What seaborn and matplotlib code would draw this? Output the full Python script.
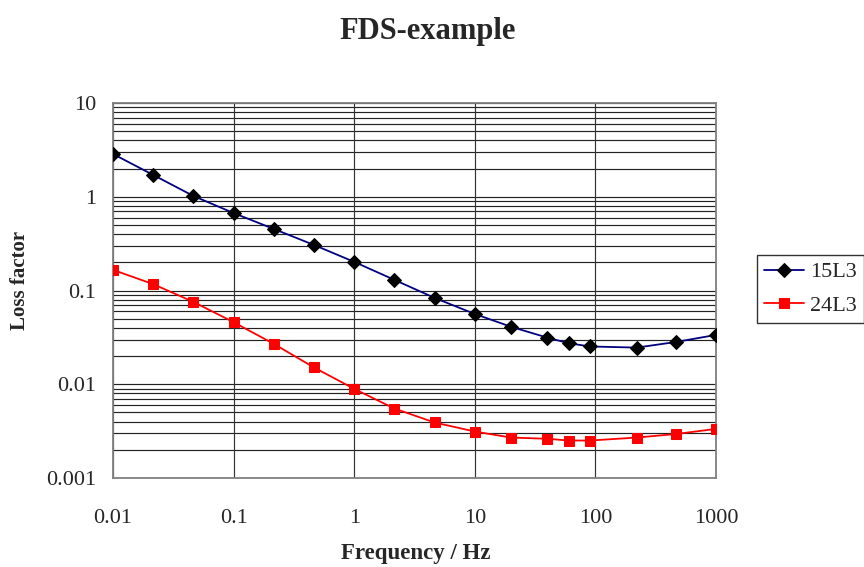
import matplotlib
matplotlib.use("Agg")
import matplotlib.pyplot as plt
import seaborn as sns
import pandas as pd
from matplotlib.ticker import FixedLocator, NullLocator

freq = [0.01, 0.0215, 0.0464, 0.1, 0.215, 0.464, 1, 2.15, 4.64, 10,
        20, 40, 60, 90, 220, 470, 1000]
loss_15L3 = [2.86, 1.71, 1.02, 0.67, 0.454, 0.306, 0.202, 0.130, 0.0834, 0.0562,
             0.041, 0.0314, 0.0274, 0.0253, 0.0246, 0.0283, 0.0336]
loss_24L3 = [0.166, 0.117, 0.0756, 0.0459, 0.0270, 0.0151, 0.00893, 0.00551, 0.00391, 0.00313,
             0.00270, 0.00262, 0.00251, 0.00251, 0.00270, 0.00295, 0.00334]
series_names = ["15L3", "24L3"]
x_ticks = [0.01, 0.1, 1, 10, 100, 1000]
x_tick_labels = ["0.01", "0.1", "1", "10", "100", "1000"]
y_ticks = [0.001, 0.01, 0.1, 1, 10]
y_tick_labels = ["0.001", "0.01", "0.1", "1", "10"]
title = "FDS-example"
x_label = "Frequency / Hz"
y_label = "Loss factor"

sns.set_style("white")
plt.rcParams["font.family"] = ["Liberation Serif", "DejaVu Serif"]

df1 = pd.DataFrame({"freq": freq, "loss": loss_15L3})
df2 = pd.DataFrame({"freq": freq, "loss": loss_24L3})

fig = plt.figure(figsize=(8.64, 5.67), dpi=100)
ax = fig.add_axes([113/864, 1-478/567, (716-113)/864, (478-103)/567])

ax.set_xscale("log")
ax.set_yscale("log")
ax.set_xlim(0.01, 1000)
ax.set_ylim(0.001, 10)

# grid: horizontal major+minor, vertical major only
minor_y = [m * 10.0**e for e in range(-3, 1) for m in range(2, 10)]
for yv in y_ticks + minor_y:
    ax.axhline(yv, color="#222222", lw=0.85, zorder=1)
for xv in x_ticks:
    ax.axvline(xv, color="#333333", lw=0.85, zorder=1)

sns.lineplot(data=df1, x="freq", y="loss", ax=ax, color="#000080", lw=1.3,
             marker="D", markersize=7, markerfacecolor="black",
             markeredgecolor="black", label=series_names[0], zorder=3,
             estimator=None, sort=False)
sns.lineplot(data=df2, x="freq", y="loss", ax=ax, color="#FF0000", lw=1.3,
             marker="s", markersize=7.5, markerfacecolor="#FF0000",
             markeredgecolor="#FF0000", label=series_names[1], zorder=3,
             estimator=None, sort=False)

ax.xaxis.set_major_locator(FixedLocator(x_ticks))
ax.xaxis.set_minor_locator(NullLocator())
ax.set_xticks(x_ticks)
ax.set_xticklabels(x_tick_labels, fontsize=16)
ax.yaxis.set_major_locator(FixedLocator(y_ticks))
ax.yaxis.set_minor_locator(NullLocator())
ax.set_yticks(y_ticks)
ax.set_yticklabels(y_tick_labels, fontsize=16)
ax.tick_params(axis="x", length=0, pad=22)
ax.tick_params(axis="y", length=0, pad=12)

for s in ax.spines.values():
    s.set_color("#808080")
    s.set_linewidth(1.3)
    s.set_visible(True)

ax.set_xlabel("")
ax.set_ylabel("")
fig.text(416/864, 1-553/567, x_label, ha="center", va="center",
         fontsize=16.5, fontweight="bold")
fig.text(20/864, 1-280/567, y_label, ha="center", va="center",
         rotation=90, fontsize=15, fontweight="bold")
fig.text(428/864, 1-31/567, title, ha="center", va="center",
         fontsize=22, fontweight="bold")

leg = ax.legend(loc="center left", bbox_to_anchor=(757/864, 1-289/567),
                bbox_transform=fig.transFigure, frameon=True, fancybox=False,
                fontsize=16, handlelength=1.8, borderpad=0.3,
                labelspacing=0.6, handletextpad=0.3, borderaxespad=0)
leg.get_frame().set_edgecolor("black")
leg.get_frame().set_linewidth(1.0)

fig.savefig("out.png", dpi=100)
